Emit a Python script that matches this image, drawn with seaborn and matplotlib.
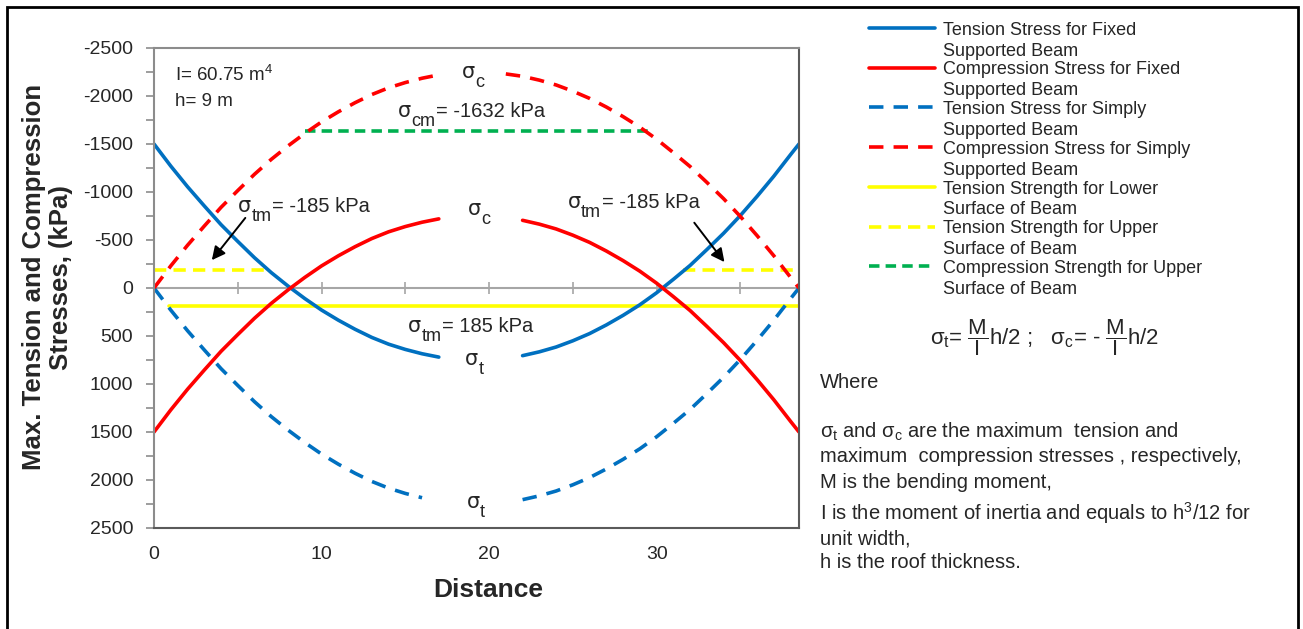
import numpy as np
import pandas as pd
import matplotlib.pyplot as plt
import seaborn as sns
from matplotlib.lines import Line2D
from matplotlib.patches import Rectangle

sns.set_style('white')
plt.rcParams['font.family'] = ['Liberation Sans', 'DejaVu Sans']
plt.rcParams['mathtext.fontset'] = 'custom'
plt.rcParams['mathtext.rm'] = 'Liberation Sans'
plt.rcParams['mathtext.it'] = 'Liberation Sans'
plt.rcParams['mathtext.bf'] = 'Liberation Sans:bold'
plt.rcParams['axes.unicode_minus'] = False

# distance along the beam (m)
distance = [0, 1, 2, 3, 4, 5, 6, 7, 8, 9, 10, 11, 12, 13, 14, 15, 16, 17, 18, 19,
            20, 21, 22, 23, 24, 25, 26, 27, 28, 29, 30, 31, 32, 33, 34, 35, 36, 37, 38, 38.5]

# stresses (kPa), negative = up on the chart
fixed_tension = [-1500, -1270, -1055, -855, -660, -485, -315, -160, -20, 110, 230, 335, 430, 515,
                 585, 640, 685, 720, 740, 750, 745, 730, 705, 665, 615, 550, 475, 385, 285, 175,
                 50, -90, -235, -400, -570, -755, -955, -1165, -1390, -1500]
fixed_compression = [1500, 1270, 1055, 855, 660, 485, 315, 160, 20, -110, -230, -335, -430, -515,
                     -585, -640, -685, -720, -740, -750, -745, -730, -705, -665, -615, -550, -475,
                     -385, -285, -175, -50, 90, 235, 400, 570, 755, 955, 1165, 1390, 1500]
simply_tension = [0, 230, 445, 645, 840, 1015, 1185, 1340, 1480, 1610, 1730, 1835, 1930, 2015,
                  2085, 2140, 2185, 2220, 2240, 2250, 2245, 2230, 2205, 2165, 2115, 2050, 1975,
                  1885, 1785, 1675, 1550, 1410, 1265, 1100, 930, 745, 545, 335, 110, 0]
simply_compression = [0, -230, -445, -645, -840, -1015, -1185, -1340, -1480, -1610, -1730, -1835,
                      -1930, -2015, -2085, -2140, -2185, -2220, -2240, -2250, -2245, -2230, -2205,
                      -2165, -2115, -2050, -1975, -1885, -1785, -1675, -1550, -1410, -1265, -1100,
                      -930, -745, -545, -335, -110, 0]

# strength limits (kPa) and the stretches where they are drawn
tension_lower = 185
tension_lower_x = [[0.9, 38.5]]
tension_upper = -185
tension_upper_x = [[0, 6.6], [31.6, 38.5]]
compression_upper = -1632
compression_upper_x = [[9.0, 29.6]]

labels = ['Tension Stress for Fixed\nSupported Beam',
          'Compression Stress for Fixed\nSupported Beam',
          'Tension Stress for Simply\nSupported Beam',
          'Compression Stress for Simply\nSupported Beam',
          'Tension Strength for Lower\nSurface of Beam',
          'Tension Strength for Upper\nSurface of Beam',
          'Compression Strength for Upper\nSurface of Beam']

BLUE = '#0070C0'
RED = '#FF0000'
YELLOW = '#FFFF00'
GREEN = '#00B050'
DASH_BR = (0, (4, 2.8))
DASH_Y = (0, (3.4, 2.0))
DASH_G = (0, (2.9, 1.7))
LW = 2.6

fig = plt.figure(figsize=(13.03, 6.29), dpi=100)
ax = fig.add_axes([0.1182, 0.1606, 0.495, 0.7631])


def curve(y, gap, color, ls):
    # gap = where the curve is broken for the sigma label
    d = pd.DataFrame({'Distance': distance, 'Stress': y})
    d = d[(d.Distance < gap[0]) | (d.Distance > gap[1])].copy()
    d['part'] = (d.Distance > gap[1]).astype(int)
    sns.lineplot(data=d, x='Distance', y='Stress', units='part', estimator=None,
                 color=color, linestyle=ls, lw=LW, ax=ax, legend=False)


def level(value, spans, color, ls):
    rows = []
    for i, (a, b) in enumerate(spans):
        rows += [(a, value, i), (b, value, i)]
    d = pd.DataFrame(rows, columns=['Distance', 'Stress', 'part'])
    sns.lineplot(data=d, x='Distance', y='Stress', units='part', estimator=None,
                 color=color, linestyle=ls, lw=LW, ax=ax, legend=False)


def sigma(x, y, sub, rest='', fs=14.5):
    # sigma with a large subscript, like the excel text boxes
    s = ax.text(x, y, 'σ', fontsize=fs + 0.5, family='DejaVu Sans', ha='left', va='baseline')
    t = ax.annotate(sub, xy=(1, 0), xycoords=s, xytext=(0.3, -0.45 * fs),
                    textcoords='offset points', fontsize=0.9 * fs, ha='left', va='bottom')
    if rest:
        ax.annotate(rest, xy=(1, 0), xycoords=(t, s), xytext=(0.5, 0),
                    textcoords='offset points', fontsize=fs, ha='left', va='bottom')


ax.axhline(0, color='#A6A6A6', lw=1.5, zorder=1)
level(tension_lower, tension_lower_x, YELLOW, '-')
level(tension_upper, tension_upper_x, YELLOW, DASH_Y)
level(compression_upper, compression_upper_x, GREEN, DASH_G)
curve(fixed_tension, (17.5, 21.7), BLUE, '-')
curve(fixed_compression, (17.5, 21.5), RED, '-')
curve(simply_tension, (16.5, 21.9), BLUE, DASH_BR)
curve(simply_compression, (17.5, 20.9), RED, DASH_BR)

ax.set_xlim(0, 38.5)
ax.set_ylim(2500, -2500)
ax.set_yticks(np.arange(-2500, 2501, 500))
ax.set_yticks(np.arange(-2500, 2501, 250), minor=True)
ax.set_xticks([0, 10, 20, 30])
ax.tick_params(axis='y', which='both', direction='out', color='#8C8C8C', length=6,
               width=1.2, labelsize=14, pad=9, left=True)
ax.tick_params(axis='x', length=0, pad=13, labelsize=14)
for s in ax.spines.values():
    s.set_color('#8C8C8C')
    s.set_linewidth(1.5)
ax.spines['bottom'].set_color('#5A5A5A')
ax.spines['right'].set_color('#5A5A5A')

# tick marks on the zero line
sec = ax.secondary_xaxis(0.5)
sec.set_xticks([0, 10, 20, 30])
sec.set_xticks(np.arange(0, 38.5, 5), minor=True)
sec.tick_params(which='both', direction='inout', length=8, width=1.2, color='#A6A6A6',
                labeltop=False, labelbottom=False)
for s in sec.spines.values():
    s.set_visible(False)

ax.set_xlabel('Distance', fontsize=19, fontweight='bold')
ax.xaxis.set_label_coords(0.518, -0.105)
ax.set_ylabel('Max. Tension and Compression\nStresses, (kPa)', fontsize=18.5,
              fontweight='bold')
ax.yaxis.set_label_coords(-0.125, 0.522)

fs = 13.5
ax.text(1.25, -2215, 'I= 60.75 m$^{\\mathrm{4}}$', fontsize=fs, va='center')
ax.text(1.25, -1945, 'h= 9 m', fontsize=fs, va='center')
sigma(18.37, -2187, 'c')
sigma(14.55, -1781, 'cm', '= -1632 kPa')
sigma(5.01, -792, 'tm', '= -185 kPa')
sigma(18.72, -760, 'c')
sigma(24.69, -833, 'tm', '= -185 kPa')
sigma(15.15, 458, 'tm', '= 185 kPa')
sigma(18.55, 802, 't')
sigma(18.66, 2292, 't')
arrow = dict(arrowstyle='-|>', color='black', lw=1.4, mutation_scale=20, shrinkA=0, shrinkB=0)
ax.annotate('', xy=(3.45, -290), xytext=(5.45, -730), arrowprops=arrow)
ax.annotate('', xy=(34.05, -270), xytext=(32.25, -680), arrowprops=arrow)

handles = [Line2D([], [], color=BLUE, lw=LW),
           Line2D([], [], color=RED, lw=LW),
           Line2D([], [], color=BLUE, lw=LW, linestyle=DASH_BR),
           Line2D([], [], color=RED, lw=LW, linestyle=DASH_BR),
           Line2D([], [], color=YELLOW, lw=LW),
           Line2D([], [], color=YELLOW, lw=LW, linestyle=DASH_Y),
           Line2D([], [], color=GREEN, lw=LW, linestyle=DASH_G)]
leg = fig.legend(handles, labels, loc='upper left', bbox_to_anchor=(0.661, 0.977),
                 frameon=False, fontsize=13, handlelength=3.7, handletextpad=0.45,
                 labelspacing=0.1, borderaxespad=0)
for t in leg.get_texts():
    t.set_linespacing(1.3)
for col in leg._legend_handle_box.get_children():
    for row in col.get_children():
        row.align = 'top'

fig.text(1044 / 1303, 1 - 338 / 629,
         '$\\sigma_{\\mathrm{t}}$= $\\dfrac{\\mathrm{M}}{\\mathrm{I}}$h/2 ;   '
         '$\\sigma_{\\mathrm{c}}$= - $\\dfrac{\\mathrm{M}}{\\mathrm{I}}$h/2',
         fontsize=16, ha='center', va='center')
notes = [(383, 'Where'),
         (432, '$\\sigma_{\\mathrm{t}}$ and $\\sigma_{\\mathrm{c}}$ are the maximum  tension and'),
         (457, 'maximum  compression stresses , respectively,'),
         (482, 'M is the bending moment,'),
         (513, 'I is the moment of inertia and equals to h$^{\\mathrm{3}}$/12 for'),
         (539, 'unit width,'),
         (563, 'h is the roof thickness.')]
for py, t in notes:
    fig.text(820 / 1303, 1 - py / 629, t, fontsize=14.5, ha='left', va='center')

# outer frame (open at the bottom edge)
fig.add_artist(Rectangle((7 / 1303, -0.05), 1291 / 1303, 1.05 - 7 / 629, transform=fig.transFigure,
                         fill=False, lw=2, edgecolor='black', clip_on=False))

fig.savefig('out.png', dpi=100)
